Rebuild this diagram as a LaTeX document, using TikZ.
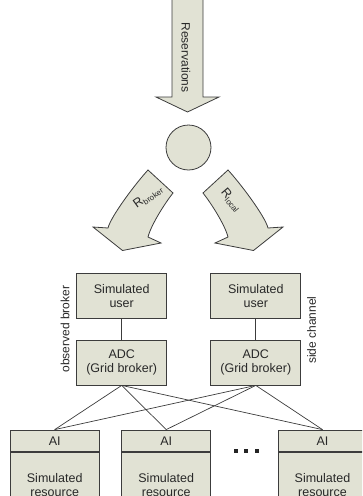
\documentclass[tikz,border=0pt]{standalone}
\usepackage{fontspec}
\setmainfont{Liberation Sans}
\definecolor{boxfill}{RGB}{225,226,212}
\definecolor{edge}{RGB}{60,60,60}
\definecolor{ink}{RGB}{40,40,40}
\begin{document}
\begin{tikzpicture}[x=1pt,y=-1pt,
  shape fill/.style={fill=boxfill,draw=edge,line width=0.8pt,line join=miter},
  box/.style={shape fill,rectangle,inner sep=0pt,align=center,text=ink,
    font=\fontsize{12.5}{14.5}\selectfont},
  wire/.style={draw=edge,line width=0.7pt},
  label/.style={text=ink,font=\fontsize{12}{14}\selectfont,inner sep=0pt}]
\path[use as bounding box,clip] (0,0) rectangle (362,496);

% incoming block arrow
\path[shape fill] (172,-3) -- (203,-3) -- (203,97) -- (219,97) -- (187.5,112)
  -- (156,97) -- (172,97) -- cycle;
\node[label,rotate=-90] (res) at (186,57.5) {Reservations};

% splitting point
\node[shape fill,circle,minimum size=45pt,inner sep=0pt] (hub) at (188.5,147.5) {};

% curved block arrow towards the observed broker
\path[shape fill] (148,170) .. controls (136,183) and (111,216) .. (108,228)
  -- (93,227) -- (122.5,250.5) -- (161,243) -- (148,237)
  .. controls (151,225) and (165,203) .. (173,193) -- cycle;
\node[label,rotate=36] (rb) at (148,197)
  {{\fontsize{12.5}{12.5}\selectfont R}\raisebox{-2.5pt}{\fontsize{8}{8}\selectfont broker}};

% curved block arrow towards the side channel
\path[shape fill] (228,170) .. controls (240,183) and (265,216) .. (268,228)
  -- (283,227) -- (253.5,250.5) -- (215,243) -- (228,237)
  .. controls (225,225) and (211,203) .. (203,193) -- cycle;
\node[label,rotate=-50] (rl) at (231,200)
  {{\fontsize{12.5}{12.5}\selectfont R}\raisebox{-2.5pt}{\fontsize{8}{8}\selectfont local}};

% brokers
\node[box,minimum width=90pt,minimum height=45pt] (userL) at (121.7,295.8) {Simulated\\user};
\node[box,minimum width=90pt,minimum height=45pt] (userR) at (255.8,295.8) {Simulated\\user};
\node[box,minimum width=90pt,minimum height=45pt] (adcL) at (121.7,362.5) {ADC\\(Grid broker)};
\node[box,minimum width=90pt,minimum height=45pt] (adcR) at (255.8,362.5) {ADC\\(Grid broker)};
\draw[wire] (userL) -- (adcL);
\draw[wire] (userR) -- (adcR);

\node[label,rotate=90] (obs) at (65,329) {observed broker};
\node[label,rotate=90] (side) at (311.5,330) {side channel};

% resources
\foreach \n/\cx in {A/54.7,B/166.2,C/322.5}{
  \node[box,minimum width=89pt,minimum height=21.7pt] (ai\n) at (\cx,440.85) {AI};
  \node[box,minimum width=89pt,minimum height=65pt,anchor=north] (res\n)
    at (ai\n.south) {Simulated\\resource};
}

% broker to resource links
\foreach \b in {adcL,adcR}{
  \foreach \n in {A,B,C}{
    \draw[wire] (\b.south) -- (ai\n.north);
  }
}

% ellipsis
\foreach \d/\dx in {1/235.7,2/246,3/257.2}{
  \node[fill=ink!90!black,minimum size=3.6pt,inner sep=0pt] (dot\d) at (\dx,450.7) {};
}
\end{tikzpicture}
\end{document}
